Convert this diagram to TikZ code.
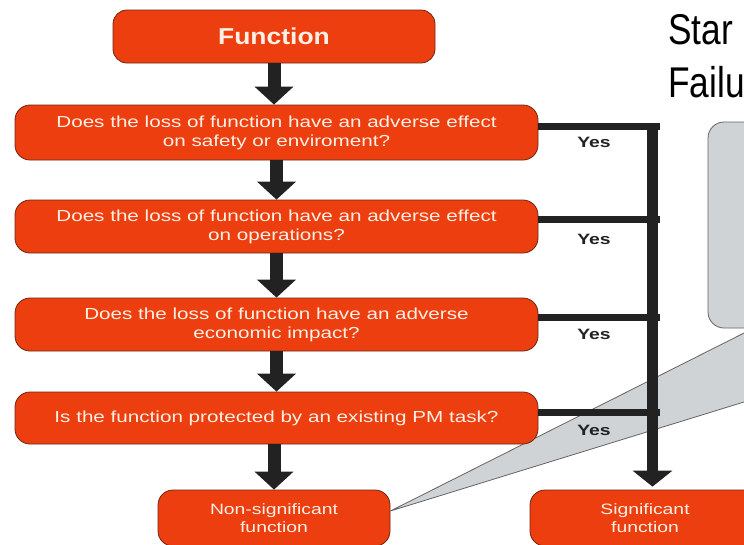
\documentclass[tikz,border=0pt]{standalone}
\usepackage{fontspec}
\setmainfont{Liberation Sans}
\newfontfamily\boxfont{Liberation Sans}[FakeStretch=1.29]
\newfontfamily\funcfont{Liberation Sans}[FakeStretch=1.15]
\newfontfamily\titlefont{Liberation Sans}[FakeStretch=0.82]
\usetikzlibrary{arrows.meta,calc}
\pgfdeclarelayer{paper}
\pgfdeclarelayer{background}
\pgfsetlayers{paper,background,main}
\definecolor{boxred}{RGB}{236,62,14}
\definecolor{boxedge}{RGB}{110,40,20}
\definecolor{boxtext}{RGB}{255,240,230}
\definecolor{ink}{RGB}{34,34,34}
\definecolor{callgray}{RGB}{207,211,214}
\definecolor{calledge}{RGB}{100,100,100}
\tikzset{
  rbox/.style={draw=boxedge, line width=0.8pt, fill=boxred, rounded corners=15pt,
    text=boxtext, align=center, inner sep=0pt,
    font=\boxfont\fontsize{16}{19}\selectfont},
  qbox/.style={rbox, minimum width=523pt},
  flowarrow/.style={draw=ink, line width=13pt, -{Triangle[width=38pt,length=18pt]}},
  yesline/.style={draw=ink, line width=7pt},
  yeslabel/.style={text=ink, inner sep=0pt, font=\boxfont\bfseries\fontsize{15}{18}\selectfont},
  callout/.style={draw=calledge, fill=callgray, line width=0.8pt},
}
\begin{document}
\begin{tikzpicture}[x=1pt,y=-1pt]
\useasboundingbox (0,0) rectangle (744,544);
\begin{pgfonlayer}{paper}
  \fill[white] (0,0) rectangle (744,544);
\end{pgfonlayer}

% title (cropped in the reference)
\node[anchor=base west, inner sep=0pt, font=\titlefont\fontsize{43}{50}\selectfont] (t1) at (668,44) {Star};
\node[anchor=base west, inner sep=0pt, font=\titlefont\fontsize{43}{50}\selectfont] (t2) at (668,97) {Failu};

% flow boxes
\node[rbox, font=\funcfont\bfseries\fontsize{23}{28}\selectfont, minimum width=322pt, minimum height=53pt, rounded corners=14pt] (f) at (274,36.5) {Function};
\node[qbox, minimum height=55pt] (b1) at (276.5,132.5) {Does the loss of function have an adverse effect\\on safety or enviroment?};
\node[qbox, minimum height=53pt] (b2) at (276.5,226.5) {Does the loss of function have an adverse effect\\on operations?};
\node[qbox, minimum height=53pt] (b3) at (276.5,324.5) {Does the loss of function have an adverse\\economic impact?};
\node[qbox, minimum height=52pt] (b4) at (276.5,418) {Is the function protected by an existing PM task?};
\node[rbox, minimum width=232pt, minimum height=56pt, font=\boxfont\fontsize{15}{18}\selectfont] (ns) at (274,518) {Non-significant\\function};
\node[rbox, minimum width=230pt, minimum height=56pt, font=\boxfont\fontsize{15}{18}\selectfont] (sig) at (645,518) {Significant\\function};

% callout (behind everything)
\begin{pgfonlayer}{background}
  \fill[callgray] ([yshift=7pt]ns.east) -- (754,328) -- (984,328) -- cycle;
  \draw[calledge, line width=0.8pt] (754,328) -- ([yshift=7pt]ns.east) -- (984,328);
  \draw[callout, rounded corners=16pt] (708,122) rectangle (820,328);
\end{pgfonlayer}

% main column arrows
\draw[flowarrow] (f.south) -- (f.south |- b1.north);
\draw[flowarrow] (b1.south) -- (b2.north);
\draw[flowarrow] (b2.south) -- (b3.north);
\draw[flowarrow] (b3.south) -- (b4.north);
\draw[flowarrow] (ns.north |- b4.south) -- (ns.north);

% yes branches
\coordinate (rx) at (660,0);
\coordinate (vt) at (652.5,122.5);
\draw[yesline] ([yshift=6.5pt]b1.east) -- ([yshift=6.5pt]b1.east -| rx);
\draw[yesline] ([yshift=7.5pt]b2.east) -- ([yshift=7.5pt]b2.east -| rx);
\draw[yesline] ([yshift=7.5pt]b3.east) -- ([yshift=7.5pt]b3.east -| rx);
\draw[yesline] ([yshift=5.5pt]b4.east) -- ([yshift=5.5pt]b4.east -| rx);
\draw[draw=ink, line width=11pt, -{Triangle[width=39pt,length=16pt]}, shorten >=3pt] (vt) -- (vt |- sig.north);

\node[yeslabel] (y1) at (594,142) {Yes};
\node[yeslabel] (y2) at (594,239) {Yes};
\node[yeslabel] (y3) at (594,334) {Yes};
\node[yeslabel] (y4) at (594,430) {Yes};
\end{tikzpicture}
\end{document}
